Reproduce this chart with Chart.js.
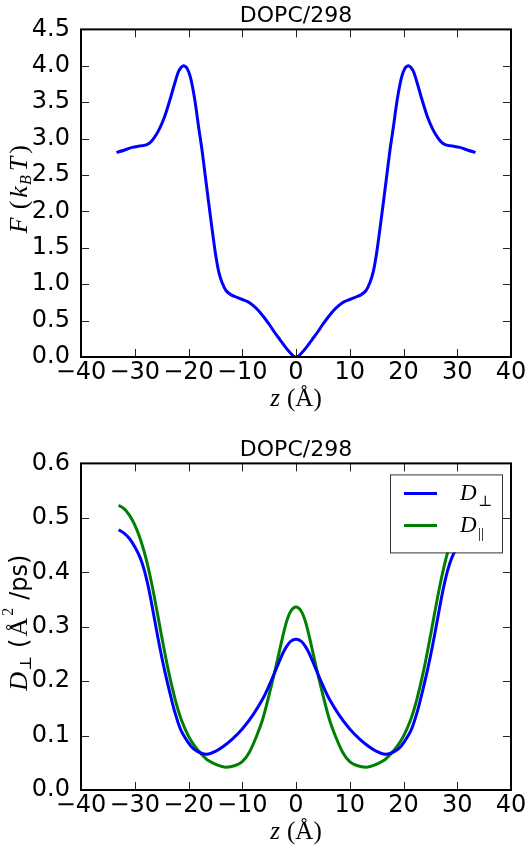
<!DOCTYPE html>
<html>
<head>
<meta charset="utf-8">
<script src="https://cdn.jsdelivr.net/npm/chart.js@4.4.1/dist/chart.umd.min.js"></script>
<style>
    body { margin: 0; background: #fff; width: 531px; height: 850px; overflow: hidden; }
    .panel { position: absolute; left: 0; width: 531px; height: 425px; }
</style>
</head>
<body>
<div class="panel" style="top:0"><canvas id="freeChart" width="531" height="425"></canvas></div>
<div class="panel" style="top:425px"><canvas id="diffChart" width="531" height="425"></canvas></div>
<script>
// Free energy profile across the bilayer, F(z) in kBT
const zFree = [-33.4, -32, -30.5, -29, -28, -27.2, -26.4, -25.5, -24.5, -23.5, -22.6, -21.8, -21, -20.3, -19.6,
    -18.8, -18.1, -17.5, -16.9, -16.3, -15.6, -15, -14.4, -13.8, -13, -12, -11, -10, -9, -8, -7, -6, -5, -4,
    -3, -2, -1, -0.5, 0, 0.5, 1, 2, 3, 4, 5, 6, 7, 8, 9, 10, 11, 12, 13, 13.8, 14.4, 15, 15.6, 16.3, 16.9,
    17.5, 18.1, 18.8, 19.6, 20.3, 21, 21.8, 22.6, 23.5, 24.5, 25.5, 26.4, 27.2, 28, 29, 30.5, 32, 33.4];
const freeEnergy = [2.81, 2.84, 2.88, 2.9, 2.91, 2.94, 3.01, 3.12, 3.29, 3.52, 3.75, 3.93, 4.0, 3.97, 3.83,
    3.52, 3.15, 2.85, 2.5, 2.15, 1.75, 1.43, 1.18, 1.03, 0.91, 0.85, 0.82, 0.79, 0.76, 0.71, 0.64, 0.55, 0.45, 0.34,
    0.24, 0.14, 0.05, 0.015, 0, 0.015, 0.05, 0.14, 0.24, 0.34, 0.45, 0.55, 0.64, 0.71, 0.76, 0.79, 0.82, 0.85, 0.91, 1.03,
    1.18, 1.43, 1.75, 2.15, 2.5, 2.85, 3.15, 3.52, 3.83, 3.97, 4.0, 3.93, 3.75, 3.52, 3.29, 3.12, 3.01, 2.94,
    2.91, 2.9, 2.88, 2.84, 2.81];

// Diffusion coefficients, perpendicular and parallel (A^2/ps)
const zDiff = [-33, -32, -31, -30, -29, -28.2, -27.3, -26.4, -25.5, -24.5, -23.5, -22.6, -21.5, -20.1, -19,
    -17.5, -16.3, -15, -13.8, -12, -10, -8, -6.2, -5, -3.7, -2.5, -1.8, -1, 0, 1, 1.8, 2.5, 3.7, 5, 6.2, 8, 10,
    12, 13.8, 15, 16.3, 17.5, 19, 20.1, 21.5, 22.6, 23.5, 24.5, 25.5, 26.4, 27.3, 28.2, 29, 30, 31, 32, 33];
const dPerp = [0.478, 0.472, 0.462, 0.447, 0.427, 0.403, 0.365, 0.318, 0.27, 0.222, 0.18, 0.145, 0.112, 0.088, 0.075,
    0.067, 0.066, 0.071, 0.078, 0.092, 0.112, 0.138, 0.167, 0.192, 0.222, 0.25, 0.263, 0.273, 0.277, 0.273, 0.263,
    0.25, 0.222, 0.192, 0.167, 0.138, 0.112, 0.092, 0.078, 0.071, 0.066, 0.067, 0.075, 0.088, 0.112, 0.145, 0.18,
    0.222, 0.27, 0.318, 0.365, 0.403, 0.427, 0.447, 0.462, 0.472, 0.478];
const zPar = [-33, -32, -31, -30, -29, -28.2, -27.6, -26.7, -25.7, -24.8, -23.8, -22.5, -21.3, -20, -18.8,
    -17.5, -16.3, -14.7, -13.1, -11.3, -10, -8.7, -7.5, -6.2, -5, -3.7, -2.7, -1.8, -1, 0, 1, 1.8, 2.7, 3.7, 5,
    6.2, 7.5, 8.7, 10, 11.3, 13.1, 14.7, 16.3, 17.5, 18.8, 20, 21.3, 22.5, 23.8, 24.8, 25.7, 26.7, 27.6, 28.2,
    29, 30, 31, 32, 33];
const dPar = [0.523, 0.517, 0.505, 0.487, 0.462, 0.436, 0.413, 0.372, 0.32, 0.272, 0.222, 0.167, 0.128, 0.099,
    0.08, 0.065, 0.054, 0.046, 0.042, 0.045, 0.052, 0.069, 0.095, 0.13, 0.175, 0.228, 0.272, 0.308, 0.328, 0.336,
    0.328, 0.308, 0.272, 0.228, 0.175, 0.13, 0.095, 0.069, 0.052, 0.045, 0.042, 0.046, 0.054, 0.065, 0.08, 0.099,
    0.128, 0.167, 0.222, 0.272, 0.32, 0.372, 0.413, 0.436, 0.462, 0.487, 0.505, 0.517, 0.523];

const panelTitle = 'DOPC/298';
const xRange = [-40, 40, 10];        // min, max, step
const freeRange = [0, 4.5, 0.5];
const diffRange = [0, 0.6, 0.1];
const legendSubs = ['\u22A5', '||'];   // D_perp, D_parallel

const BLUE = '#0000ff';
const GREEN = '#008000';
const SANS = '"DejaVu Sans", sans-serif';
const SERIF = '"Liberation Serif", "DejaVu Serif", serif';

function points(xs, ys) {
    return xs.map((x, i) => ({ x: x, y: ys[i] }));
}

function tickText(v) {
    return v < 0 ? '\u2212' + Math.abs(v) : String(v);
}

// draw a run of text pieces (italic / sub / superscript) centred on x,y
function drawRich(ctx, parts, x, y, angle) {
    ctx.save();
    ctx.translate(x, y);
    ctx.rotate(angle);
    ctx.textAlign = 'left';
    ctx.textBaseline = 'alphabetic';
    ctx.fillStyle = '#000';
    let total = 0;
    parts.forEach(p => { ctx.font = p.font; total += ctx.measureText(p.text).width + (p.gap || 0); });
    let cx = -total / 2;
    parts.forEach(p => {
        ctx.font = p.font;
        ctx.fillText(p.text, cx, p.dy || 0);
        cx += ctx.measureText(p.text).width + (p.gap || 0);
    });
    ctx.restore();
}

// matplotlib-like frame with inward ticks on all four sides, plus axis labels and legend
const decorations = {
    id: 'decorations',
    afterDatasetsDraw(chart, args, opts) {
        const ctx = chart.ctx;
        const a = chart.chartArea;
        const xs = chart.scales.x, ys = chart.scales.y;
        const len = 8;

        ctx.save();
        ctx.strokeStyle = '#222';
        ctx.lineWidth = 1;
        ctx.beginPath();
        xs.ticks.forEach(t => {
            const px = Math.round(xs.getPixelForValue(t.value)) + 0.5;
            ctx.moveTo(px, a.bottom); ctx.lineTo(px, a.bottom - len);
            ctx.moveTo(px, a.top); ctx.lineTo(px, a.top + len);
        });
        ys.ticks.forEach(t => {
            const py = Math.round(ys.getPixelForValue(t.value)) + 0.5;
            ctx.moveTo(a.left, py); ctx.lineTo(a.left + len, py);
            ctx.moveTo(a.right, py); ctx.lineTo(a.right - len, py);
        });
        ctx.stroke();

        ctx.strokeStyle = '#000';
        ctx.lineWidth = 2;
        ctx.strokeRect(a.left, a.top, a.right - a.left, a.bottom - a.top);
        ctx.restore();

        // x label: z (Å)
        drawRich(ctx, [
            { text: 'z', font: 'italic 25px ' + SERIF, gap: 7 },
            { text: '(\u00C5)', font: '25px ' + SERIF }
        ], (a.left + a.right) / 2, a.bottom + 49, 0);

        // y label
        drawRich(ctx, opts.yLabel, 27, (a.top + a.bottom) / 2 - 4, -Math.PI / 2);

        if (opts.legend) {
            const left = a.right - 121, top = a.top + 11, w = 112, h = 78;
            ctx.save();
            ctx.fillStyle = '#fff';
            ctx.fillRect(left, top, w, h);
            ctx.strokeStyle = '#333';
            ctx.lineWidth = 1;
            ctx.strokeRect(left + 0.5, top + 0.5, w, h);
            chart.data.datasets.forEach((ds, i) => {
                const y = top + 19 + i * 32;
                ctx.strokeStyle = ds.borderColor;
                ctx.lineWidth = 3;
                ctx.beginPath();
                ctx.moveTo(left + 14, y);
                ctx.lineTo(left + 47, y);
                ctx.stroke();
                ctx.textAlign = 'left';
                ctx.textBaseline = 'alphabetic';
                ctx.fillStyle = '#000';
                ctx.font = 'italic 23px ' + SERIF;
                ctx.fillText('D', left + 70, y + 7);
                ctx.font = '15px ' + SERIF;
                ctx.fillText(legendSubs[i], left + 88, y + 13);
            });
            ctx.restore();
        }
    }
};

function makeChart(id, datasets, yRange, titlePadTop, xAxisHeight, yLabel, legend) {
    return new Chart(document.getElementById(id), {
        type: 'scatter',
        data: { datasets: datasets },
        plugins: [decorations],
        options: {
            responsive: false,
            animation: false,
            devicePixelRatio: 1,
            layout: { padding: { left: 0, right: 20, top: 0, bottom: 0 } },
            elements: {
                point: { radius: 0 },
                line: { borderWidth: 3, tension: 0.3 }
            },
            scales: {
                x: {
                    type: 'linear',
                    min: xRange[0], max: xRange[1],
                    grid: { display: false },
                    border: { display: false },
                    ticks: {
                        stepSize: xRange[2], autoSkip: false, maxRotation: 0, padding: -7,
                        color: '#000', font: { family: SANS, size: 24 },
                        callback: v => tickText(v)
                    },
                    afterFit: s => { s.height = xAxisHeight; }
                },
                y: {
                    min: yRange[0], max: yRange[1],
                    grid: { display: false },
                    border: { display: false },
                    ticks: {
                        stepSize: yRange[2], autoSkip: false, padding: 3,
                        color: '#000', font: { family: SANS, size: 24 },
                        callback: v => v.toFixed(1)
                    },
                    afterFit: s => { s.width = 81; }
                }
            },
            plugins: {
                legend: { display: false },
                tooltip: { enabled: false },
                title: {
                    display: true, text: panelTitle, fullSize: false, color: '#000',
                    font: { family: SANS, size: 22, weight: 'normal' },
                    padding: { top: titlePadTop, bottom: 0 }
                },
                decorations: { yLabel: yLabel, legend: legend }
            }
        }
    });
}

const it26 = 'italic 26px ' + SERIF;
const rm26 = '26px ' + SERIF;

makeChart('freeChart', [
    { label: 'F', data: points(zFree, freeEnergy), showLine: true, borderColor: BLUE, fill: false }
], freeRange, 3, 68, [
    { text: 'F', font: it26, gap: 8 },
    { text: '(', font: rm26, gap: 3 },
    { text: 'k', font: it26, gap: 1 },
    { text: 'B', font: 'italic 16px ' + SERIF, dy: 4, gap: 4 },
    { text: 'T', font: it26, gap: 3 },
    { text: ')', font: rm26 }
], false);

makeChart('diffChart', [
    { label: 'D\u22A5', data: points(zDiff, dPerp), showLine: true, borderColor: BLUE, fill: false },
    { label: 'D||', data: points(zPar, dPar), showLine: true, borderColor: GREEN, fill: false }
], diffRange, 12, 60, [
    { text: 'D', font: it26, gap: 1 },
    { text: '\u22A5', font: '16px ' + SERIF, dy: 4, gap: 8 },
    { text: '(', font: '24px ' + SANS, gap: 2 },
    { text: '\u00C5', font: rm26, gap: 2 },
    { text: '2', font: '16px ' + SERIF, dy: -14, gap: 8 },
    { text: '/ps)', font: '24px ' + SANS }
], true);
</script>
</body>
</html>
